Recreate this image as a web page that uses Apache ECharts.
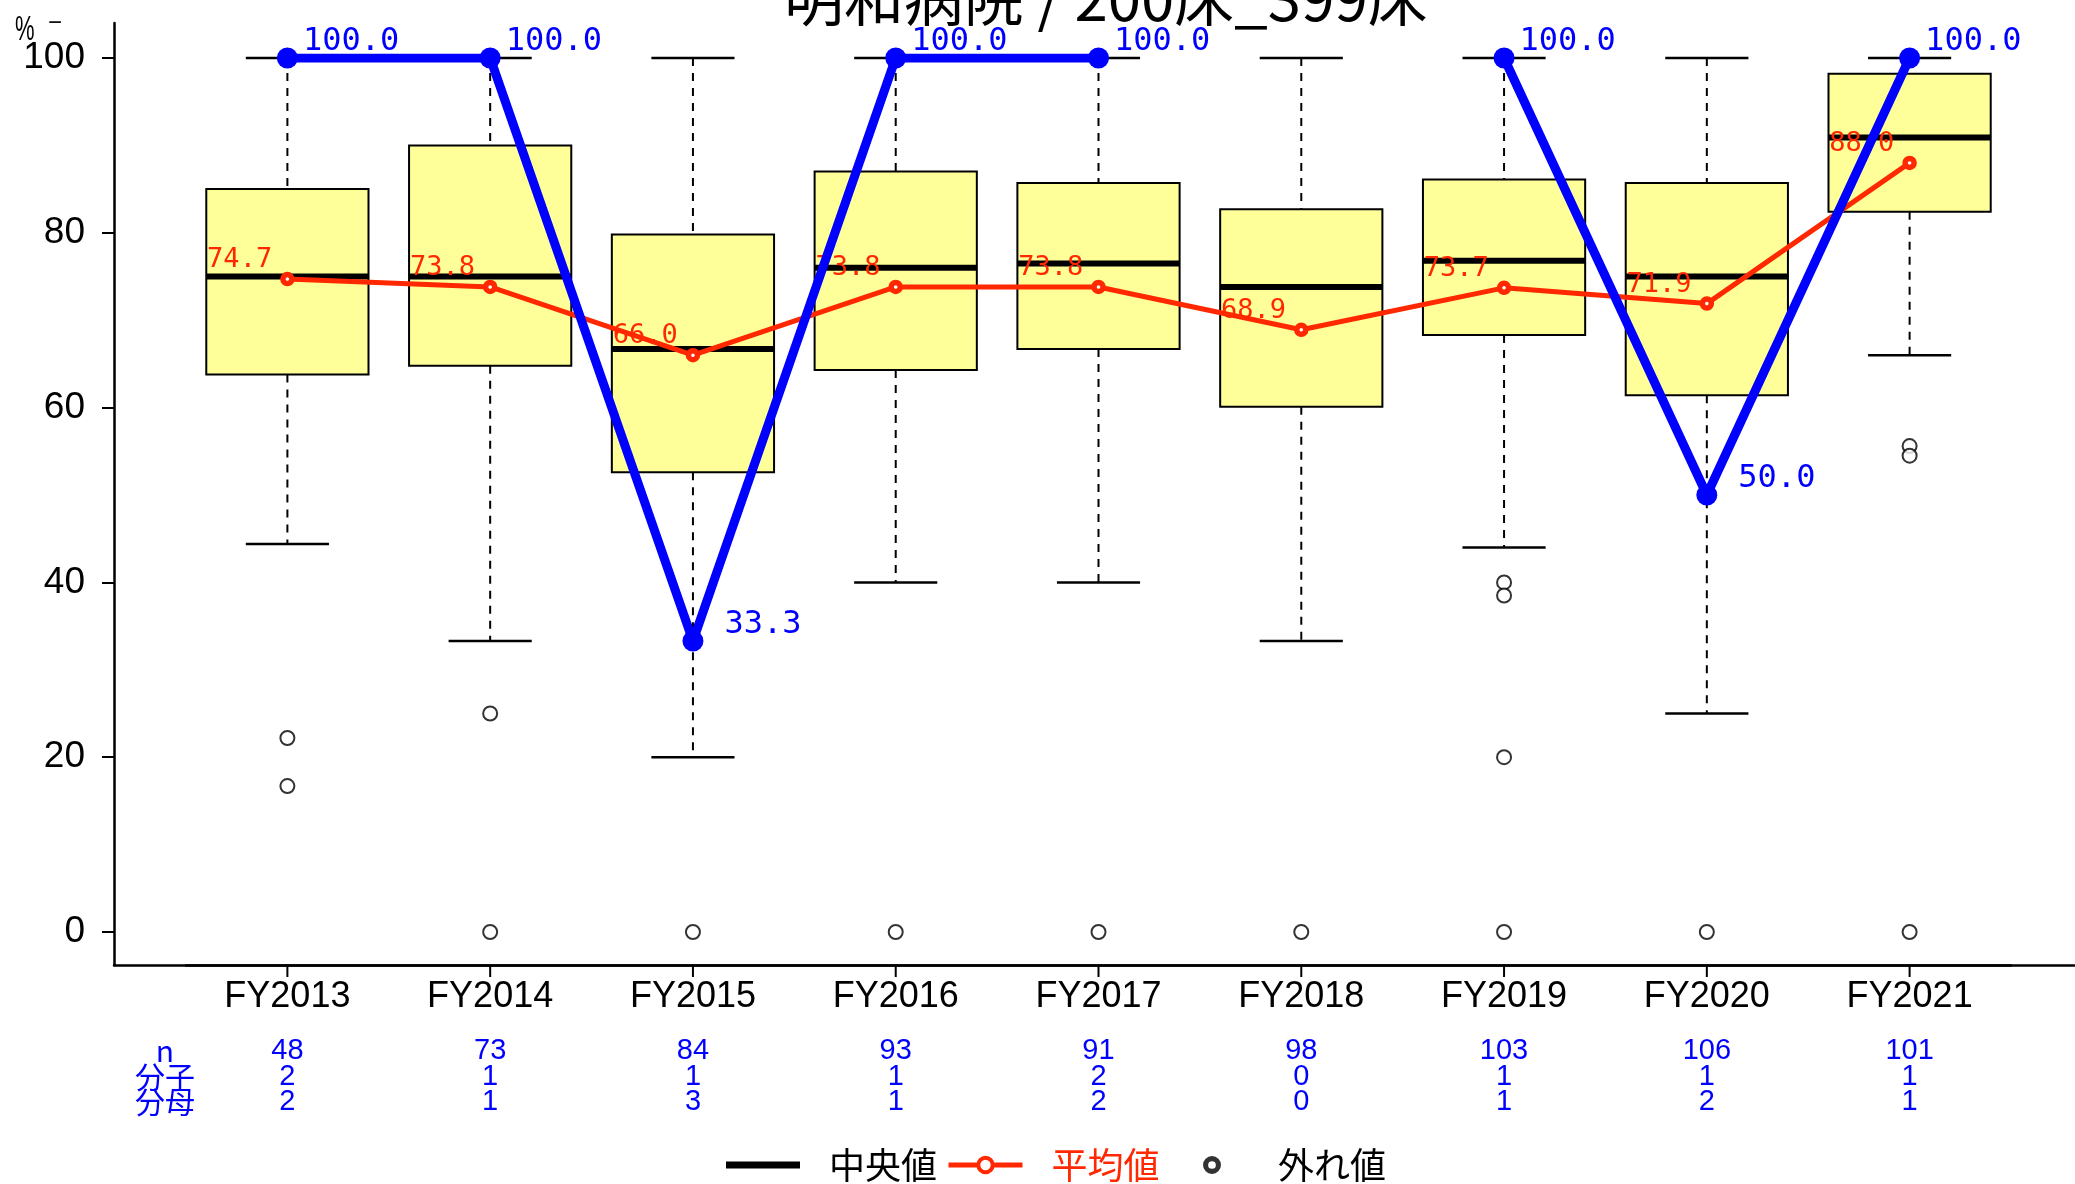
<!DOCTYPE html>
<html>
<head>
<meta charset="utf-8">
<title>明和病院 / 200床_399床</title>
<script src="https://cdn.jsdelivr.net/npm/echarts@6/dist/echarts.min.js"></script>
<style>
  html, body { margin: 0; padding: 0; background: #fff; }
  #main { width: 2075px; height: 1184px; }
</style>
</head>
<body>
<div id="main"></div>
<script>
// categories and box statistics
var years = ['FY2013', 'FY2014', 'FY2015', 'FY2016', 'FY2017', 'FY2018', 'FY2019', 'FY2020', 'FY2021'];
var whiskerLow = [44.4, 33.3, 20.0, 40.0, 40.0, 33.3, 44.0, 25.0, 66.0];
var q1 =        [63.8, 64.8, 52.6, 64.3, 66.7, 60.1, 68.3, 61.4, 82.4];
var median =    [75.0, 75.0, 66.7, 76.0, 76.5, 73.8, 76.8, 75.0, 90.9];
var q3 =        [85.0, 90.0, 79.8, 87.0, 85.7, 82.7, 86.1, 85.7, 98.2];
var whiskerHigh = [100, 100, 100, 100, 100, 100, 100, 100, 100];
var meanVals =  [74.7, 73.8, 66.0, 73.8, 73.8, 68.9, 73.7, 71.9, 88.0];
// this hospital's own rate, FY2018 has no cases
var hospitalVals = [100.0, 100.0, 33.3, 100.0, 100.0, null, 100.0, 50.0, 100.0];
// outliers: [category index, value]
var outliers = [
  [0, 22.2], [0, 16.7],
  [1, 25.0], [1, 0],
  [2, 0], [3, 0], [4, 0], [5, 0],
  [6, 40.0], [6, 38.5], [6, 20.0], [6, 0],
  [7, 0],
  [8, 55.6], [8, 54.5], [8, 0]
];
// table under the axis
var nCount = [48, 73, 84, 93, 91, 98, 103, 106, 101];
var numer = [2, 1, 1, 1, 2, 0, 1, 1, 1];
var denom = [2, 1, 3, 1, 2, 0, 1, 2, 1];
var yTicks = [0, 20, 40, 60, 80, 100];

var RED = '#ff2800';
var BLUE = '#0000ff';

var boxData = years.map(function (y, i) {
  return [i, whiskerLow[i], q1[i], median[i], q3[i], whiskerHigh[i]];
});

var tickData = years.map(function (y, i) { return [i, 0]; });

var hospitalData = hospitalVals.map(function (v) {
  if (v === null) return null;
  return { value: v, label: { distance: v === 100 ? 5 : 21 } };
});

function renderBox(params, api) {
  var idx = api.value(0);
  var pLo = api.coord([idx, api.value(1)]);
  var pQ1 = api.coord([idx, api.value(2)]);
  var pMed = api.coord([idx, api.value(3)]);
  var pQ3 = api.coord([idx, api.value(4)]);
  var pHi = api.coord([idx, api.value(5)]);
  var band = api.size([1, 0])[0];
  var bw = band * 0.4, cw = band * 0.205;
  var x = pMed[0];
  var dash = { stroke: '#000', lineWidth: 2, lineDash: [8, 7] };
  var cap = { stroke: '#000', lineWidth: 2.5 };
  return {
    type: 'group',
    children: [
      { type: 'line', shape: { x1: x, y1: pHi[1], x2: x, y2: pQ3[1] }, style: dash },
      { type: 'line', shape: { x1: x, y1: pQ1[1], x2: x, y2: pLo[1] }, style: dash },
      { type: 'line', shape: { x1: x - cw, y1: pHi[1], x2: x + cw, y2: pHi[1] }, style: cap },
      { type: 'line', shape: { x1: x - cw, y1: pLo[1], x2: x + cw, y2: pLo[1] }, style: cap },
      { type: 'rect', shape: { x: x - bw, y: pQ3[1], width: 2 * bw, height: pQ1[1] - pQ3[1] },
        style: { fill: '#ffff99', stroke: '#000', lineWidth: 2 } },
      { type: 'line', shape: { x1: x - bw, y1: pMed[1], x2: x + bw, y2: pMed[1] },
        style: { stroke: '#000', lineWidth: 6 } }
    ]
  };
}

// small downward tick under each category on the bottom axis
function renderTick(params, api) {
  var p = api.coord([api.value(0), api.value(1)]);
  return { type: 'line', shape: { x1: p[0], y1: p[1], x2: p[0], y2: p[1] + 12 },
           style: { stroke: '#000', lineWidth: 2 } };
}

var myChart = echarts.init(document.getElementById('main'));

var noAxis = { show: false };

var option = {
  animation: false,
  backgroundColor: '#fff',
  title: {
    text: '明和病院 / 200床_399床',
    left: 779,
    top: -37,
    textStyle: { fontFamily: 'Noto Sans CJK JP', fontSize: 60, fontWeight: 'normal', color: '#000' }
  },
  graphic: [
    { type: 'text', x: 15, y: 13, scaleY: 1.6,
      style: { text: '%', fontFamily: 'Liberation Sans', fontSize: 22, fill: '#000' } },
    { type: 'text', x: 48, y: 23,
      style: { text: '−', fontFamily: 'Liberation Sans', fontSize: 24, fill: '#000', verticalAlign: 'middle' } },
    { type: 'text', x: 165, y: 1038,
      style: { text: 'n\n分子\n分母', fontFamily: 'Noto Sans CJK JP', fontSize: 30,
               lineHeight: 25.5, fill: BLUE, align: 'center', verticalAlign: 'top' } }
  ],
  legend: [
    {
      left: 721,
      top: 1142,
      itemWidth: 74,
      itemHeight: 18,
      itemGap: 9,
      textStyle: { fontFamily: 'Noto Sans CJK JP', fontSize: 36, color: '#000', padding: [0, 0, 0, 24] },
      data: [
        { name: '中央値', icon: 'path://M0,0H74V7H0Z', itemStyle: { color: '#000', borderWidth: 0 } },
        { name: '平均値', textStyle: { color: RED },
          lineStyle: { width: 5 }, itemStyle: { borderWidth: 4 } }
      ]
    },
    {
      left: 1198,
      top: 1142,
      itemWidth: 74,
      itemHeight: 18,
      textStyle: { fontFamily: 'Noto Sans CJK JP', fontSize: 36, color: '#000', padding: [0, 0, 0, 24] },
      data: [
        { name: '外れ値',
          icon: 'path://M0,7A7,7 0 1,0 14,7A7,7 0 1,0 0,7Z M4,7A3,3 0 1,1 10,7A3,3 0 1,1 4,7Z',
          itemStyle: { color: '#000', borderWidth: 0 } }
      ]
    }
  ],
  grid: [
    { left: 186, right: 64, top: 58, bottom: 252 },   // data
    { left: 114, right: 0, top: 23, bottom: 219 },    // frame lines
    { left: 186, right: 64, top: 23, bottom: 219 }    // category ticks and labels
  ],
  xAxis: [
    {
      type: 'category', gridIndex: 0, data: years,
      axisLine: noAxis, axisTick: noAxis, axisLabel: noAxis, splitLine: noAxis
    },
    {
      type: 'value', gridIndex: 1, min: 0, max: 1,
      axisLine: { show: true, onZero: false, lineStyle: { color: '#000', width: 2.5 } },
      axisTick: noAxis, axisLabel: noAxis, splitLine: noAxis
    },
    {
      type: 'category', gridIndex: 2, data: years, position: 'bottom',
      axisLine: { show: true, lineStyle: { color: '#000', width: 2.5 } },
      axisTick: noAxis,
      axisLabel: {
        margin: -9,
        formatter: function (v, i) {
          return '{fy|' + v + '}\n{t|' + nCount[i] + '}\n{t|' + numer[i] + '}\n{t|' + denom[i] + '}';
        },
        rich: {
          fy: { fontFamily: 'Liberation Sans', fontSize: 36, lineHeight: 82.5, color: '#000' },
          t: { fontFamily: 'Liberation Sans', fontSize: 29, lineHeight: 25.5, color: BLUE }
        }
      },
      splitLine: noAxis
    }
  ],
  yAxis: [
    {
      type: 'value', gridIndex: 0, min: 0, max: 100, interval: 20, offset: 72,
      axisLine: { show: false, onZero: false },
      axisTick: { show: true, length: 12, lineStyle: { color: '#000', width: 2 } },
      axisLabel: {
        margin: 29, fontFamily: 'Liberation Sans', fontSize: 37, color: '#000',
        formatter: function (v) { return yTicks.indexOf(v) >= 0 ? String(v) : ''; }
      },
      splitLine: noAxis
    },
    {
      type: 'value', gridIndex: 1, min: 0, max: 1,
      axisLine: { show: true, onZero: false, lineStyle: { color: '#000', width: 2.5 } },
      axisTick: noAxis, axisLabel: noAxis, splitLine: noAxis
    },
    {
      type: 'value', gridIndex: 2, min: 0, max: 1,
      axisLine: noAxis, axisTick: noAxis, axisLabel: noAxis, splitLine: noAxis
    }
  ],
  series: [
    {
      name: 'ticks',
      type: 'custom',
      xAxisIndex: 2, yAxisIndex: 2,
      renderItem: renderTick,
      clip: false,
      silent: true,
      data: tickData,
      z: 1
    },
    {
      name: '中央値',
      type: 'custom',
      xAxisIndex: 0, yAxisIndex: 0,
      renderItem: renderBox,
      encode: { x: 0, y: [1, 2, 3, 4, 5] },
      itemStyle: { color: '#000' },
      data: boxData,
      z: 2
    },
    {
      name: '外れ値',
      type: 'scatter',
      xAxisIndex: 0, yAxisIndex: 0,
      symbol: 'emptyCircle',
      symbolSize: 14,
      itemStyle: { color: '#000', borderColor: '#000', borderWidth: 2.5 },
      data: outliers,
      z: 3
    },
    {
      name: '平均値',
      type: 'line',
      xAxisIndex: 0, yAxisIndex: 0,
      data: meanVals,
      symbol: 'circle',
      symbolSize: 9,
      lineStyle: { color: RED, width: 5 },
      itemStyle: { color: '#fff', borderColor: RED, borderWidth: 5.5 },
      label: {
        show: true, position: 'left', distance: 8, offset: [0, -19],
        fontFamily: 'DejaVu Sans Mono', fontSize: 27, color: RED,
        formatter: function (p) { return p.value.toFixed(1); }
      },
      z: 4
    },
    {
      name: '当院',
      type: 'line',
      xAxisIndex: 0, yAxisIndex: 0,
      data: hospitalData,
      connectNulls: false,
      symbol: 'circle',
      symbolSize: 21,
      lineStyle: { color: BLUE, width: 9 },
      itemStyle: { color: BLUE },
      label: {
        show: true, position: 'right', offset: [0, -16],
        fontFamily: 'DejaVu Sans Mono', fontSize: 32, color: BLUE,
        formatter: function (p) { return p.value.toFixed(1); }
      },
      z: 5
    }
  ]
};

myChart.setOption(option);
</script>
</body>
</html>
